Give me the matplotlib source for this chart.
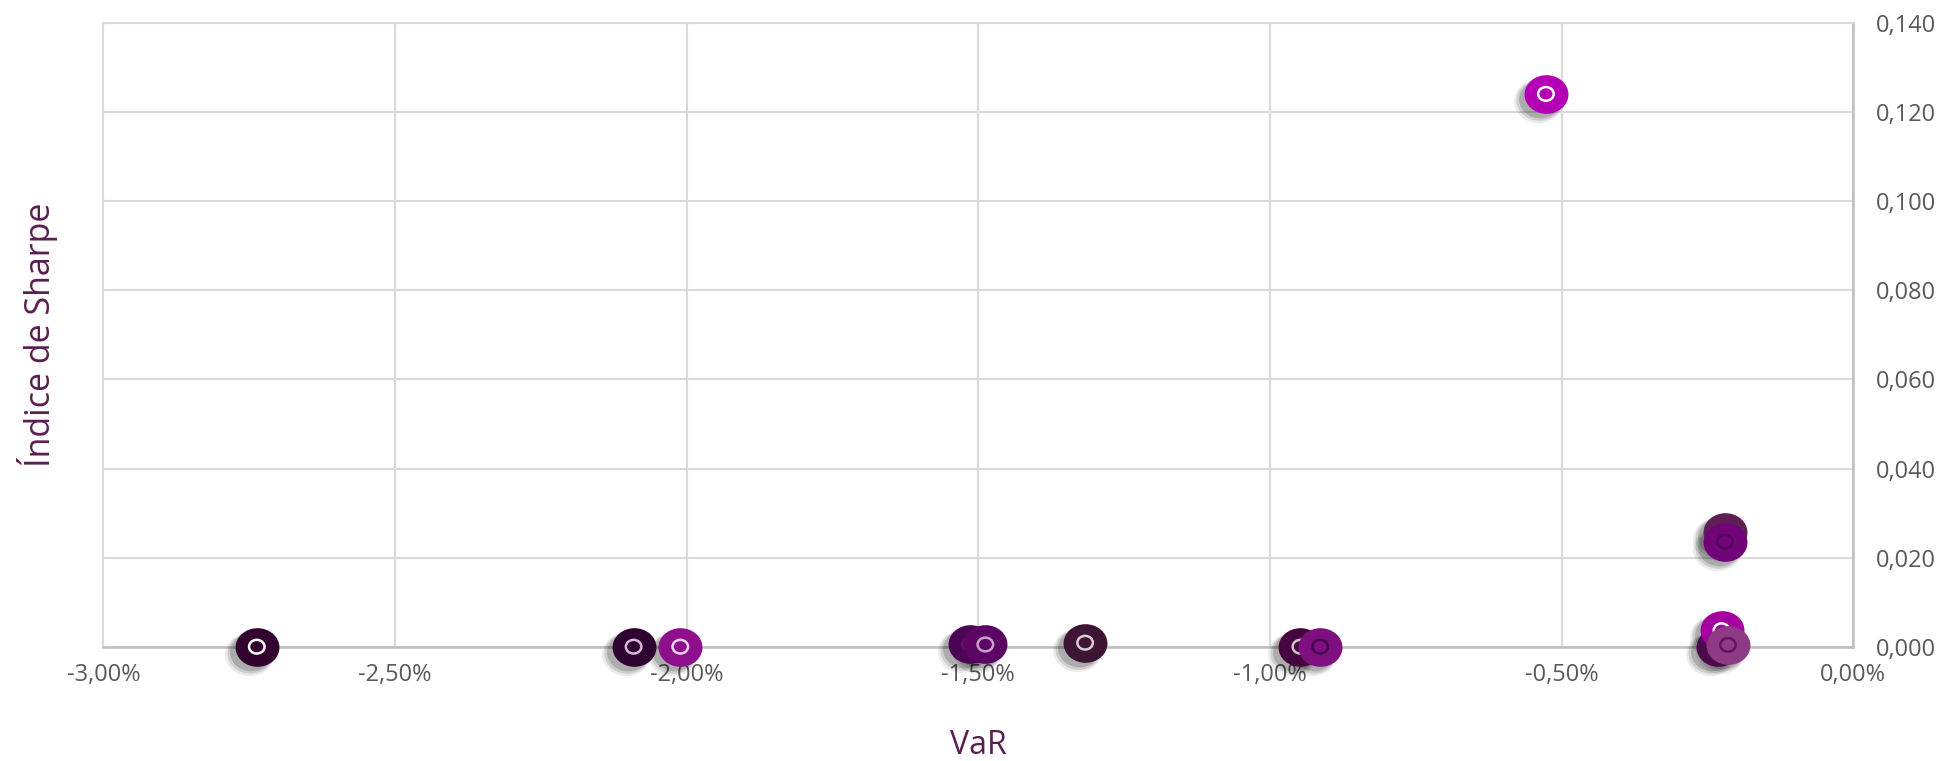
import numpy as np
import matplotlib
matplotlib.use("Agg")
import matplotlib.pyplot as plt
from matplotlib.path import Path
from matplotlib.markers import MarkerStyle
from matplotlib.ticker import FuncFormatter, MultipleLocator
import matplotlib.transforms as mtransforms

plt.rcParams['font.family'] = ['Open Sans', 'DejaVu Sans']

## DATA
var_pct = [-2.737, -2.091, -2.011, -1.514, -1.488, -1.317, -0.948, -0.914,
           -0.527, -0.220, -0.220, -0.232, -0.226, -0.215]
sharpe = [0.0000, 0.0000, 0.0000, 0.0005, 0.0005, 0.0009, 0.0000, 0.0000,
          0.1241, 0.0258, 0.0236, 0.0000, 0.0037, 0.0004]
face_cols = ['#33032F', '#2D0230', '#8E0F8C', '#4C0456', '#5B0463', '#3F1535', '#45053F', '#7E1080',
             '#B400B5', '#5F1F55', '#720479', '#4A0A4C', '#A3009F', '#8E3A85']
ring_cols = ['#FFFFFF', '#D9B8D6', '#F0D0EE', '#6A1070', '#C8A0CC', '#D8CCD3', '#D0C0CC', '#4A0050',
             '#FFFFFF', '#8A5A80', '#50035A', '#6A2A6C', '#FFFFFF', '#6A1069']

# ellipse marker (etwas flacher als Kreis)
circ = Path.unit_circle()
ell = Path(circ.vertices * np.array([1.0, 0.88]), circ.codes)
m_ell = MarkerStyle(ell)

fig = plt.figure(figsize=(19.47, 7.61), dpi=100)
ax = fig.add_axes([0.0531, 0.1502, 0.8988, 0.8195])

# Schatten
for dx, dy, s, a in [(-8, -7, 1250, 0.08), (-7, -6, 1100, 0.12), (-6, -5, 950, 0.16)]:
    tr = mtransforms.offset_copy(ax.transData, fig=fig, x=dx, y=dy, units='dots')
    ax.scatter(var_pct, sharpe, s=s, marker=m_ell, color='#000000', alpha=a,
               linewidths=0, transform=tr, zorder=3, clip_on=False)

for i in range(len(var_pct)):
    ax.scatter(var_pct[i], sharpe[i], s=1000, marker=m_ell, color=face_cols[i],
               linewidths=0, zorder=4 + 2 * i, clip_on=False)
    ax.scatter(var_pct[i], sharpe[i], s=125, marker=m_ell, facecolor='none',
               edgecolor=ring_cols[i], linewidths=1.8, zorder=5 + 2 * i, clip_on=False)

ax.set_xlim(-3.0, 0.0)
ax.set_ylim(0.0, 0.14)
ax.xaxis.set_major_locator(MultipleLocator(0.5))
ax.yaxis.set_major_locator(MultipleLocator(0.02))
ax.xaxis.set_major_formatter(FuncFormatter(lambda v, p: ('%.2f%%' % v).replace('.', ',')))
ax.yaxis.set_major_formatter(FuncFormatter(lambda v, p: ('%.3f' % v).replace('.', ',')))

ax.yaxis.tick_right()
ax.tick_params(axis='both', length=0, labelsize=17, labelcolor='#595959')
ax.tick_params(axis='x', pad=12)
ax.tick_params(axis='y', pad=16)
for lbl in ax.get_yticklabels():
    lbl.set_horizontalalignment('left')

ax.grid(True, color='#D9D9D9', linewidth=1.5, zorder=0)
ax.set_axisbelow(True)
for side in ['left', 'top']:
    ax.spines[side].set_color('#D9D9D9')
    ax.spines[side].set_linewidth(1.5)
for side in ['right', 'bottom']:
    ax.spines[side].set_color('#BFBFBF')
    ax.spines[side].set_linewidth(1.8)

ax.set_xlabel('VaR', fontsize=23, color='#5A1E50', labelpad=30)
ax.set_ylabel('Índice de Sharpe', fontsize=24.5, color='#5A1E50')
ax.yaxis.set_label_position('left')
ax.yaxis.set_label_coords(-0.026, 0.5)

fig.savefig('out.png', dpi=100)
